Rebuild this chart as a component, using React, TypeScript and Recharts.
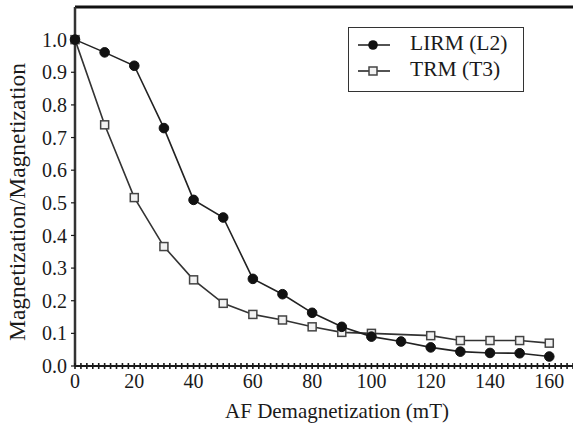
import React from "react";
import { LineChart, Line, XAxis, YAxis, ReferenceLine } from "recharts";

const fieldsMT = [0, 10, 20, 30, 40, 50, 60, 70, 80, 90, 100, 110, 120, 130, 140, 150, 160];
const lirmL2 = [1.0, 0.961, 0.92, 0.729, 0.509, 0.455, 0.267, 0.22, 0.163, 0.12, 0.09, 0.075, 0.057, 0.044, 0.04, 0.039, 0.029];
const trmT3 = [1.0, 0.739, 0.516, 0.366, 0.264, 0.192, 0.158, 0.141, 0.12, 0.103, 0.1, null, 0.093, 0.078, 0.078, 0.078, 0.07];
const xMajorTicks = [0, 20, 40, 60, 80, 100, 120, 140, 160];
const yTicks = [0, 0.1, 0.2, 0.3, 0.4, 0.5, 0.6, 0.7, 0.8, 0.9, 1.0];
const xMinorTicks: number[] = [];
for (let v = 0; v <= 168; v += 2) xMinorTicks.push(v);

const data = fieldsMT.map((f, i) => ({ f, lirm: lirmL2[i], trm: trmT3[i] }));

const FONT = "'Liberation Serif', 'Times New Roman', serif";
const INK = "#1a1a1a";

const XTick = (props: any) => {
  const { x, y, payload } = props;
  const v = payload.value;
  const showLabel = xMajorTicks.includes(v);
  return (
    <g>
      <line x1={x} x2={x} y1={y - 3} y2={y + 3} stroke={INK} strokeWidth={1.6} />
      {showLabel && (
        <text x={x} y={y + 22} textAnchor="middle" fontFamily={FONT} fontSize={20} fill={INK}>
          {v}
        </text>
      )}
    </g>
  );
};

const Circle = (props: any) => {
  const { cx, cy } = props;
  if (cx == null || cy == null) return null;
  return <circle cx={cx} cy={cy} r={4.8} fill="#111" stroke="#111" />;
};

const Square = (props: any) => {
  const { cx, cy } = props;
  if (cx == null || cy == null) return null;
  return <rect x={cx - 4} y={cy - 4} width={8} height={8} fill="#f2f2f2" stroke="#444" strokeWidth={1.5} />;
};

const XLabel = () => (
  <text x={337} y={418} textAnchor="middle" fontFamily={FONT} fontSize={21} fill={INK}>
    AF Demagnetization (mT)
  </text>
);

const YLabel = () => (
  <text transform="translate(25,202) rotate(-90)" textAnchor="middle" fontFamily={FONT} fontSize={23.5} fill={INK}>
    Magnetization/Magnetization
  </text>
);

const LegendBox = () => (
  <div
    style={{
      position: "absolute",
      left: 348,
      top: 27,
      width: 174,
      height: 63,
      border: "1.6px solid #333",
      background: "#fff",
    }}
  >
    <svg width={174} height={63} style={{ position: "absolute", left: 0, top: 0 }}>
      <line x1={9} x2={41} y1={17} y2={17} stroke={INK} strokeWidth={1.5} />
      <circle cx={24} cy={17} r={4.8} fill="#111" />
      <text x={61} y={22} fontFamily={FONT} fontSize={21.5} fill={INK}>LIRM (L2)</text>
      <line x1={9} x2={41} y1={43} y2={43} stroke={INK} strokeWidth={1.5} />
      <rect x={20} y={39} width={8} height={8} fill="#f2f2f2" stroke="#444" strokeWidth={1.5} />
      <text x={61} y={48} fontFamily={FONT} fontSize={21.5} fill={INK}>TRM (T3)</text>
    </svg>
  </div>
);

export default function App() {
  return (
    <div style={{ position: "absolute", left: 0, top: 0, width: 573, height: 427, background: "#fff" }}>
      <LineChart width={573} height={427} data={data} margin={{ top: 7, right: 0, left: 0, bottom: 0 }}>
        <XAxis
          dataKey="f"
          type="number"
          domain={[0, 168]}
          ticks={xMinorTicks}
          interval={0}
          tick={<XTick />}
          tickLine={false}
          tickSize={0}
          tickMargin={0}
          height={61}
          axisLine={{ stroke: INK, strokeWidth: 2 }}
          label={<XLabel />}
        />
        <YAxis
          type="number"
          domain={[0, 1.1]}
          ticks={yTicks}
          interval={0}
          width={75}
          tickSize={4}
          tickMargin={4}
          tickFormatter={(v: number) => v.toFixed(1)}
          tick={{ fontFamily: FONT, fontSize: 20, fill: INK }}
          axisLine={{ stroke: "#333", strokeWidth: 2.5 }}
          tickLine={{ stroke: INK, strokeWidth: 1.2 }}
          label={<YLabel />}
        />
        <ReferenceLine y={1.1} stroke="#111" strokeWidth={3} ifOverflow="visible" />
        <Line
          dataKey="trm"
          stroke="#333"
          strokeWidth={1.6}
          dot={<Square />}
          activeDot={false}
          connectNulls
          isAnimationActive={false}
        />
        <Line
          dataKey="lirm"
          stroke="#222"
          strokeWidth={1.6}
          dot={<Circle />}
          activeDot={false}
          isAnimationActive={false}
        />
      </LineChart>
      <LegendBox />
    </div>
  );
}
